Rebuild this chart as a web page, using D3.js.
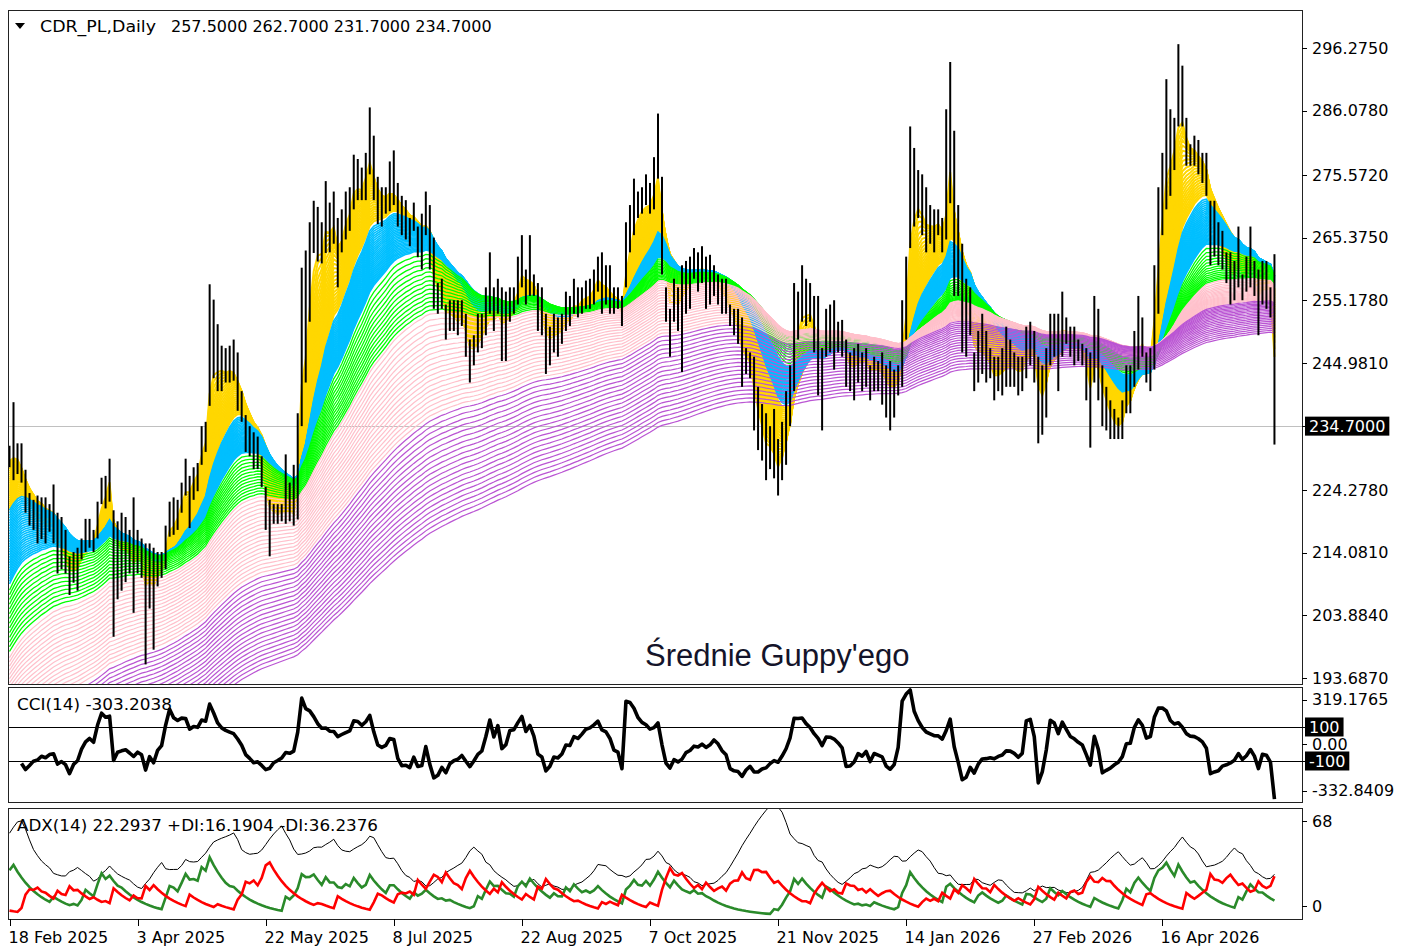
<!DOCTYPE html>
<html>
<head>
<meta charset="utf-8">
<script src="https://cdn.jsdelivr.net/npm/d3@7"></script>
<style>
  body { margin: 0; background: #fff; }
  text { font-family: "DejaVu Sans", sans-serif; font-size: 16px; fill: #000; }
</style>
</head>
<body>
<svg id="chart" width="1406" height="947"></svg>
<script>
// daily bars, CDR_PL, 18 Feb 2025 .. May 2026
var highs = [
  231.5,238.6,231.9,231.9,227.6,223.8,222.7,223.4,223.1,223.1,
  222.0,225.2,220.6,219.9,217.8,213.5,214.2,214.9,216.4,219.6,
  219.6,217.8,222.4,226.3,226.6,229.4,221.0,219.2,220.6,219.9,
  217.8,223.1,217.8,216.4,215.6,215.6,214.9,214.2,214.2,218.5,
  222.4,223.1,222.7,225.5,229.4,226.6,228.0,228.7,234.7,235.4,
  257.8,255.3,251.3,247.8,247.4,247.8,248.8,246.7,240.4,236.5,
  234.7,233.7,233.0,229.8,224.8,222.7,222.0,222.0,222.0,230.1,
  225.5,228.4,236.8,260.5,263.3,267.9,271.4,270.4,267.9,274.6,
  271.1,272.9,268.6,270.0,272.9,273.6,278.9,278.2,276.8,279.2,
  286.6,282.0,275.3,273.6,273.6,277.8,279.6,274.3,272.2,271.5,
  268.6,271.1,267.2,269.3,272.9,270.7,265.4,258.0,258.7,254.5,
  255.2,255.2,255.2,255.2,253.0,248.8,249.5,253.0,253.0,257.3,
  263.0,257.3,258.7,257.3,256.6,257.3,257.3,262.3,265.8,260.2,
  265.8,259.4,258.0,257.3,253.0,250.9,253.0,252.4,253.0,256.6,
  255.9,258.7,257.3,257.3,258.4,258.7,260.2,262.3,263.0,260.9,
  260.9,257.3,257.3,255.9,267.9,270.7,275.0,272.9,273.6,275.7,
  274.3,278.5,285.6,275.3,257.3,253.8,258.7,257.3,260.9,261.6,
  262.3,263.7,263.0,264.0,262.3,262.6,260.9,259.4,258.7,258.7,
  254.5,253.8,253.8,252.4,247.4,246.7,246.0,241.1,238.3,236.8,
  234.7,237.5,232.6,235.4,240.4,244.6,258.0,256.6,260.9,258.7,
  258.0,255.9,255.9,247.4,253.8,254.5,255.2,251.7,252.0,248.8,
  246.7,247.4,248.1,246.7,247.4,244.6,246.0,245.3,246.7,244.6,
  245.3,243.9,244.6,255.2,262.3,283.5,280.0,276.4,275.7,273.6,
  270.7,270.0,270.0,268.6,286.3,294.0,282.8,270.7,264.4,258.7,
  257.3,246.7,250.2,253.0,250.2,247.4,246.0,246.0,247.4,250.9,
  248.8,246.7,246.0,246.0,250.9,251.7,250.2,246.0,244.6,247.4,
  253.0,253.0,253.0,256.6,252.4,250.9,250.9,248.8,248.1,247.4,
  246.7,255.9,253.8,244.6,241.1,238.9,237.5,236.1,238.9,244.6,
  244.6,250.2,255.9,252.4,246.7,247.4,260.9,273.6,279.2,291.2,
  286.3,284.9,296.9,293.4,284.9,280.6,282.0,281.3,279.2,279.2,
  271.4,271.4,267.9,266.5,263.0,263.0,261.6,267.2,259.4,262.3,
  267.2,261.6,260.2,261.6,261.6,257.3,262.7
];
var lows = [
  228.0,225.9,226.9,225.5,220.6,218.5,217.8,215.6,216.3,215.6,
  217.5,215.6,210.7,211.4,210.7,207.2,209.2,207.9,213.0,214.2,
  214.9,214.2,216.4,222.0,221.3,222.4,200.4,206.5,207.9,209.3,
  210.7,204.3,210.7,210.0,195.9,205.0,198.3,208.6,210.0,211.4,
  216.7,217.0,217.8,220.6,223.4,218.1,222.7,224.1,228.4,230.5,
  238.0,242.5,240.4,240.4,241.8,241.8,242.1,237.2,235.4,230.5,
  229.8,227.7,227.7,224.8,217.8,213.5,218.8,218.8,219.2,218.8,
  219.2,218.5,219.5,234.7,241.8,251.7,262.9,261.5,261.2,262.9,
  263.0,264.4,257.3,263.0,265.1,266.5,270.0,271.5,271.5,271.5,
  275.7,271.5,267.6,267.2,269.3,269.7,270.7,267.2,265.8,265.1,
  264.0,266.5,262.2,260.2,265.8,260.2,253.8,253.0,253.8,248.8,
  250.2,250.2,249.5,251.0,246.0,241.8,244.6,246.7,247.4,249.5,
  253.0,250.2,253.0,245.3,245.3,251.7,253.0,254.5,257.3,254.5,
  255.9,255.9,250.2,249.5,243.2,244.6,246.7,246.0,248.1,250.2,
  251.0,253.0,252.4,253.0,253.8,253.8,254.5,256.6,253.0,254.5,
  253.0,253.0,253.8,251.0,257.3,263.0,265.8,268.6,269.3,270.7,
  269.3,270.0,275.0,259.4,251.7,246.0,251.7,250.2,243.5,253.0,
  253.8,258.7,256.6,258.0,253.8,254.5,255.9,254.5,253.0,253.0,
  251.0,249.5,248.1,241.1,243.2,242.5,234.0,230.8,229.1,225.9,
  227.7,226.2,223.4,225.9,228.4,234.7,240.4,248.8,251.7,251.0,
  251.7,246.7,239.7,234.0,246.0,246.7,243.9,246.7,246.0,241.1,
  240.4,238.9,241.8,240.4,241.1,238.9,240.4,240.4,238.2,236.1,
  234.0,236.1,239.7,241.1,248.8,263.7,267.2,268.6,265.8,263.0,
  264.4,263.0,265.8,263.0,265.1,271.0,255.9,255.9,246.7,246.0,
  249.5,240.4,241.8,243.2,241.8,242.5,238.9,240.4,239.7,241.1,
  241.1,241.1,239.7,240.4,242.5,244.6,241.8,231.9,233.3,236.1,
  244.6,246.0,240.4,246.0,248.1,246.0,244.6,245.3,244.6,238.9,
  231.2,241.8,238.9,234.7,234.0,232.6,232.6,232.6,232.6,236.8,
  236.8,241.1,243.9,246.0,241.8,240.4,243.9,253.0,265.8,270.0,
  272.2,276.4,283.5,283.5,277.1,277.1,277.1,275.7,274.3,272.2,
  260.9,262.3,260.9,260.2,258.0,254.5,255.2,257.3,255.2,256.6,
  257.3,255.9,249.5,254.5,253.8,252.4,231.7
];
var closes = [
  229.5,230.0,229.0,226.0,222.0,220.0,219.5,218.0,220.0,217.0,
  219.0,218.0,213.0,214.0,212.0,209.0,211.0,212.0,215.0,216.0,
  217.0,216.0,221.0,224.0,225.0,228.0,210.0,214.0,213.0,215.0,
  213.0,211.0,214.0,212.0,205.0,210.0,208.0,212.0,213.0,217.0,
  221.0,219.0,221.0,224.0,226.0,224.0,227.0,228.0,233.0,234.0,
  248.0,246.0,244.0,244.0,243.0,244.0,243.0,240.0,237.0,232.0,
  231.0,229.0,230.0,226.0,220.0,219.0,220.0,220.0,221.0,221.0,
  221.0,220.0,233.0,256.0,250.0,262.0,266.0,265.0,263.0,270.0,
  266.0,268.0,260.0,266.0,270.0,271.0,276.0,274.0,273.0,277.0,
  280.0,273.0,270.0,270.0,271.0,274.0,272.0,269.0,267.0,267.0,
  265.0,267.0,264.0,262.0,268.0,261.0,255.0,255.0,256.0,250.0,
  253.0,252.0,251.0,253.0,248.0,245.0,247.0,249.0,251.0,254.0,
  256.0,252.0,255.0,249.0,252.0,255.0,256.0,258.0,262.0,258.0,
  258.0,257.0,252.0,251.0,247.0,248.0,250.0,250.0,251.0,254.0,
  253.0,256.0,254.0,256.0,256.0,256.0,258.0,260.0,257.0,257.0,
  255.0,254.0,254.0,252.0,265.0,267.0,270.0,270.0,271.0,271.0,
  271.0,274.0,278.0,262.0,253.0,249.0,255.0,254.0,257.0,258.0,
  259.0,261.0,260.0,261.0,259.0,259.0,259.0,257.0,255.0,255.0,
  252.0,251.0,249.0,244.0,245.0,244.0,237.0,234.0,232.0,229.0,
  231.0,229.0,226.0,231.0,236.0,242.0,255.0,253.0,255.0,253.0,
  253.0,249.0,246.0,244.0,249.0,250.0,251.0,249.0,248.0,244.0,
  243.0,244.0,246.0,245.0,246.0,242.0,244.0,244.0,243.0,241.0,
  240.0,241.0,243.0,252.0,258.0,276.0,272.0,272.0,268.0,266.0,
  267.0,267.0,268.0,265.0,272.0,283.0,262.0,258.0,250.0,250.0,
  252.0,243.0,246.0,247.0,245.0,244.0,241.0,243.0,244.0,245.0,
  245.0,244.0,243.0,244.0,249.0,249.0,246.0,236.0,238.0,244.0,
  250.0,250.0,249.0,252.0,250.0,248.0,248.0,247.0,246.0,243.0,
  237.0,248.0,244.0,238.0,237.0,235.0,234.0,234.0,236.0,242.0,
  241.0,248.0,250.0,249.0,244.0,245.0,258.0,268.0,276.0,282.0,
  279.0,282.0,287.0,285.0,279.0,278.0,279.0,277.0,276.0,273.0,
  263.0,265.0,263.0,262.0,260.0,258.0,259.0,263.0,258.0,259.0,
  262.0,259.0,252.0,258.0,257.0,257.5,234.7
];

// bottom axis labels, every 32 bars
var dateLabels = ["18 Feb 2025", "3 Apr 2025", "22 May 2025", "8 Jul 2025", "22 Aug 2025",
                  "7 Oct 2025", "21 Nov 2025", "14 Jan 2026", "27 Feb 2026", "16 Apr 2026"];
var dateBars = [0, 32, 64, 96, 128, 160, 192, 224, 256, 288];

// right axis labels
var priceTicks = [296.2750, 286.0780, 275.5720, 265.3750, 255.1780, 244.9810,
                  224.2780, 214.0810, 203.8840, 193.6870];
var lastPrice = 234.7;
var cciRange = [-332.8409, 319.1765];
var adxRange = [0, 68];

// Guppy groups: colour, periods, EMA values at the first bar
var groupColors = ["#ffd700", "#00bfff", "#00ff00", "#ffc0cb", "#ba55d3"];
var groupPeriods = [
  d3.range(3, 15.5, 0.5),
  d3.range(16, 30.5, 0.5),
  d3.range(32, 60, 2),
  d3.range(60, 118, 3),
  d3.range(120, 204, 4)
];
var groupSeeds = [[229, 221], [221, 209], [208, 198], [197, 184], [183, 170]];
var groupWidths = [2, 1.6, 1.3, 1.2, 1.2];

// ADX(14), +DI, -DI at the first bar
var adxStart = [53.6, 29.6, 3.5];

var svg = d3.select("#chart");
var n = closes.length;

var x = d3.scaleLinear().domain([0, n - 1]).range([9.5, 9.5 + (n - 1) * 4.003]);
var y = d3.scaleLinear().domain([193.687, 296.275]).range([678, 48]);
var yCci = d3.scaleLinear().domain(cciRange).range([800.6, 689.7]);
var yAdx = d3.scaleLinear().domain(adxRange).range([916, 811]);

var panels = [
  {id: "pMain", top: 10, bottom: 684},
  {id: "pCci", top: 687, bottom: 802},
  {id: "pAdx", top: 808, bottom: 919}
];
var left = 8, right = 1302;

var defs = svg.append("defs");
panels.forEach(function(p) {
  defs.append("clipPath").attr("id", p.id)
    .append("rect").attr("x", left + 1).attr("y", p.top + 1)
    .attr("width", right - left - 1).attr("height", p.bottom - p.top - 1);
});

// ---------- main panel ----------
function ema(period, seed) {
  var a = 2 / (period + 1), v = seed, out = [];
  closes.forEach(function(c, i) {
    if (i > 0) v = v + a * (c - v);
    out.push(v);
  });
  return out;
}

var main = svg.append("g").attr("clip-path", "url(#pMain)");

main.append("line")
  .attr("x1", left).attr("x2", right)
  .attr("y1", Math.round(y(lastPrice)) + 0.5).attr("y2", Math.round(y(lastPrice)) + 0.5)
  .attr("stroke", "#c0c0c0").attr("stroke-width", 1);

var emaLine = d3.line().x(function(d, i) { return x(i); }).y(function(d) { return y(d); });

groupPeriods.forEach(function(periods, g) {
  var lo = groupSeeds[g][0], hi = groupSeeds[g][1];
  var gEl = main.append("g").attr("class", "guppy");
  periods.forEach(function(p, k) {
    var seed = lo + (hi - lo) * (periods.length > 1 ? k / (periods.length - 1) : 0);
    gEl.append("path")
      .attr("d", emaLine(ema(p, seed)))
      .attr("fill", "none")
      .attr("stroke", groupColors[g])
      .attr("stroke-width", groupWidths[g]);
  });
});

main.selectAll("line.bar")
  .data(closes)
  .enter().append("line")
  .attr("class", "bar")
  .attr("x1", function(d, i) { return x(i); })
  .attr("x2", function(d, i) { return x(i); })
  .attr("y1", function(d, i) { return y(highs[i]); })
  .attr("y2", function(d, i) { return y(lows[i]); })
  .attr("stroke", "#000")
  .attr("stroke-width", 2);

svg.append("text")
  .attr("x", 645).attr("y", 666)
  .style("font-family", "'Liberation Sans', Arial, sans-serif")
  .style("font-size", "31px")
  .style("fill", "#14142a")
  .text("Średnie Guppy'ego");

// header
svg.append("path").attr("d", "M15,23 L25,23 L20,29 Z").attr("fill", "#000");
svg.append("text").attr("x", 40).attr("y", 32)
  .attr("textLength", 116).attr("lengthAdjust", "spacingAndGlyphs")
  .text("CDR_PL,Daily");
svg.append("text").attr("x", 171).attr("y", 32)
  .text("257.5000 262.7000 231.7000 234.7000");

// ---------- CCI(14) ----------
var cci = closes.map(function(c, i) {
  if (i < 3) return null;
  var tp = [];
  for (var k = Math.max(0, i - 13); k <= i; k++) tp.push((highs[k] + lows[k] + closes[k]) / 3);
  var m = d3.mean(tp);
  var md = d3.mean(tp, function(t) { return Math.abs(t - m); });
  return md > 0 ? (tp[tp.length - 1] - m) / (0.015 * md) : 0;
});

var cciG = svg.append("g").attr("clip-path", "url(#pCci)");
[100, -100].forEach(function(lv) {
  cciG.append("line")
    .attr("x1", left).attr("x2", right)
    .attr("y1", Math.round(yCci(lv)) + 0.5).attr("y2", Math.round(yCci(lv)) + 0.5)
    .attr("stroke", "#000").attr("stroke-width", 1);
});
cciG.append("path")
  .attr("d", d3.line()
    .defined(function(d) { return d !== null; })
    .x(function(d, i) { return x(i); })
    .y(function(d) { return yCci(d); })(cci))
  .attr("fill", "none").attr("stroke", "#000").attr("stroke-width", 3.6)
  .attr("stroke-linejoin", "round");

svg.append("text").attr("x", 17).attr("y", 710)
  .attr("textLength", 155).attr("lengthAdjust", "spacingAndGlyphs")
  .text("CCI(14) -303.2038");

// ---------- ADX(14), MetaTrader style (EMA of per-bar ratios) ----------
var a14 = 2 / 15;
var adx = [], pdi = [], mdi = [];
var vAdx = adxStart[0], vP = adxStart[1], vM = adxStart[2];
closes.forEach(function(c, i) {
  if (i > 0) {
    var up = highs[i] - highs[i - 1], dn = lows[i - 1] - lows[i];
    if (up < 0) up = 0;
    if (dn < 0) dn = 0;
    if (up === dn) { up = 0; dn = 0; }
    else if (up < dn) up = 0;
    else dn = 0;
    var tr = Math.max(highs[i] - lows[i], Math.abs(highs[i] - closes[i - 1]), Math.abs(lows[i] - closes[i - 1]));
    var rp = tr > 0 ? 100 * up / tr : 0, rm = tr > 0 ? 100 * dn / tr : 0;
    vP = vP + a14 * (rp - vP);
    vM = vM + a14 * (rm - vM);
    var dx = (vP + vM) > 0 ? 100 * Math.abs(vP - vM) / (vP + vM) : 0;
    vAdx = vAdx + a14 * (dx - vAdx);
  }
  adx.push(vAdx); pdi.push(vP); mdi.push(vM);
});

var adxG = svg.append("g").attr("clip-path", "url(#pAdx)");
var adxLine = d3.line().x(function(d, i) { return x(i); }).y(function(d) { return yAdx(d); });
adxG.append("path").attr("d", adxLine(adx))
  .attr("fill", "none").attr("stroke", "#000").attr("stroke-width", 1);
adxG.append("path").attr("d", adxLine(pdi))
  .attr("fill", "none").attr("stroke", "#2a8a2a").attr("stroke-width", 2.6);
adxG.append("path").attr("d", adxLine(mdi))
  .attr("fill", "none").attr("stroke", "#ff0000").attr("stroke-width", 2.6);

svg.append("text").attr("x", 17).attr("y", 831)
  .attr("textLength", 361).attr("lengthAdjust", "spacingAndGlyphs")
  .text("ADX(14) 22.2937 +DI:16.1904 -DI:36.2376");

// ---------- frames ----------
panels.forEach(function(p) {
  svg.append("rect")
    .attr("x", left + 0.5).attr("y", p.top + 0.5)
    .attr("width", right - left).attr("height", p.bottom - p.top)
    .attr("fill", "none").attr("stroke", "#222").attr("stroke-width", 1);
});

// ---------- right axis ----------
function rightLabel(yy, txt, boxed) {
  svg.append("line").attr("x1", right).attr("x2", right + 5)
    .attr("y1", Math.round(yy) + 0.5).attr("y2", Math.round(yy) + 0.5)
    .attr("stroke", "#000");
  var box = boxed ? svg.append("rect") : null;
  var t = svg.append("text").attr("x", right + (boxed ? 7 : 10)).attr("y", yy)
    .attr("dy", "0.35em")
    .style("fill", boxed ? "#fff" : "#000")
    .text(txt);
  if (boxed) {
    var w = t.node().getComputedTextLength();
    box.attr("x", right + 3).attr("y", yy - 9.5)
      .attr("width", w + 8).attr("height", 19).attr("fill", "#000");
  }
}

priceTicks.forEach(function(p) { rightLabel(y(p), p.toFixed(4)); });
rightLabel(y(lastPrice), lastPrice.toFixed(4), true);

rightLabel(yCci(cciRange[1]) + 10, cciRange[1].toFixed(4));
rightLabel(yCci(100), "100", true);
rightLabel(yCci(0), "0.00");
rightLabel(yCci(-100), "-100", true);
rightLabel(yCci(cciRange[0]) - 10, cciRange[0].toFixed(4));

rightLabel(yAdx(adxRange[1]) + 10, String(adxRange[1]));
rightLabel(yAdx(adxRange[0]) - 10, String(adxRange[0]));

// ---------- bottom axis ----------
dateBars.forEach(function(b, k) {
  var xx = Math.round(x(b)) + 0.5;
  svg.append("line").attr("x1", xx).attr("x2", xx).attr("y1", 919).attr("y2", 926)
    .attr("stroke", "#000");
  svg.append("text").attr("x", xx - 2).attr("y", 943).text(dateLabels[k]);
});
</script>
</body>
</html>
